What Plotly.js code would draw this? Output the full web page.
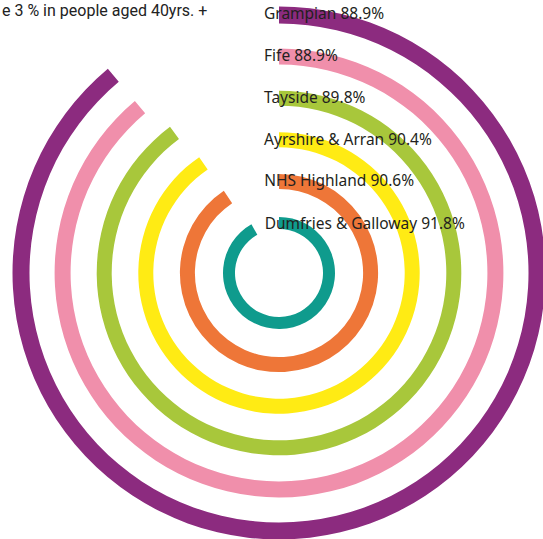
<!DOCTYPE html>
<html>
<head>
<meta charset="utf-8">
<script src="https://cdn.plot.ly/plotly-3.0.1.min.js"></script>
<style>
  html, body { margin: 0; padding: 0; background: #ffffff; overflow: hidden; width: 543px; height: 539px; }
  #chart { position: absolute; left: -1px; top: -7px; width: 560px; height: 560px; }
</style>
</head>
<body>
<div id="chart"></div>
<script>
// ---- data ----
const categories = ['Grampian', 'Fife', 'Tayside', 'Ayrshire & Arran', 'NHS Highland', 'Dumfries & Galloway'];
const uptake = [88.9, 88.9, 89.8, 90.4, 90.6, 91.8];
const valueLabels = ['88.9%', '88.9%', '89.8%', '90.4%', '90.6%', '91.8%'];
const titleText = 'e 3 % in people aged 40yrs. +';

// ---- styles ----
const colors = ['#8c2b7f', '#f08fab', '#a8c73b', '#ffeb14', '#ee7638', '#0f9b8d'];
const thickness = [17, 16, 15, 15, 15, 12];
const innerMost = 50, spacing = 41.6;

const n = categories.length;
const mids = categories.map((c, i) => innerMost + spacing * (n - 1 - i));
const bases = mids.map((m, i) => m - thickness[i] / 2);
const spans = uptake.map(v => v / 100 * 360);
const centers = spans.map(s => s / 2);

const rings = {
  type: 'barpolar',
  r: thickness,
  base: bases,
  theta: centers,
  width: spans,
  marker: { color: colors, line: { width: 0 } },
  hoverinfo: 'skip',
  showlegend: false
};

const labelShift = 15;
const labels = {
  type: 'scatterpolar',
  mode: 'text',
  r: mids,
  theta: mids.map(m => -Math.atan(labelShift / m) * 180 / Math.PI),
  text: categories.map((c, i) => c + ' ' + valueLabels[i]),
  textposition: 'middle right',
  textfont: { family: 'Noto Sans', size: 15.5, color: '#231f20' },
  hoverinfo: 'skip',
  showlegend: false
};

const layout = {
  width: 560,
  height: 560,
  margin: { l: 0, r: 0, t: 0, b: 0 },
  paper_bgcolor: '#ffffff',
  showlegend: false,
  title: {
    text: titleText,
    x: 3 / 560, xanchor: 'left',
    y: 1 - 17 / 560, yanchor: 'middle',
    font: { family: 'Roboto', size: 16, color: '#222222' }
  },
  polar: {
    domain: { x: [0, 1], y: [0, 1] },
    bgcolor: '#ffffff',
    hole: 0,
    barmode: 'overlay',
    radialaxis: { range: [0, 280], visible: false, showgrid: false },
    angularaxis: { rotation: 90, direction: 'clockwise', visible: false, showgrid: false, showline: false }
  }
};

Plotly.newPlot('chart', [rings, labels], layout, { displayModeBar: false, staticPlot: true });
</script>
</body>
</html>
